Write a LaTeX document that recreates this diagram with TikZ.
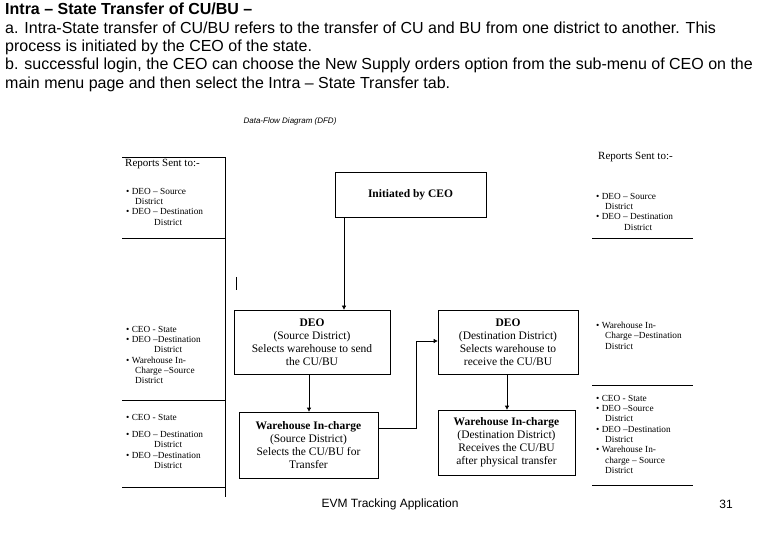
\documentclass[tikz,border=0pt]{standalone}
\usepackage{fontspec}
\setmainfont{Liberation Serif}
\newfontfamily\arialf{Liberation Sans}
\usetikzlibrary{arrows.meta}
\begin{document}
\begin{tikzpicture}[x=1pt,y=-1pt,
  box/.style={draw,thick,align=center,inner sep=2pt,font=\fontsize{11.5}{13}\selectfont},
  bl/.style={anchor=north west,align=left,font=\fontsize{9.3}{10.3}\selectfont,inner sep=0pt},
  hd/.style={anchor=north west,font=\fontsize{11}{13}\selectfont,inner sep=0pt},
  ln/.style={thick},
  arr/.style={thick,-{Triangle[length=4pt,width=4pt]}}]
\useasboundingbox[fill=white] (0,0) rectangle (780,540);
% header
\node[anchor=north west,align=left,inner sep=0pt,font=\arialf\fontsize{16}{18.4}\selectfont] (hdr) at (5,3)
 {\textbf{Intra – State Transfer of CU/BU –}\\
 a. Intra-State transfer of CU/BU refers to the transfer of CU and BU from one district to another. This\\
 process is initiated by the CEO of the state.\\
 b. successful login, the CEO can choose the New Supply orders option from the sub-menu of CEO on the\\
 main menu page and then select the Intra – State Transfer tab.};
\node[font=\arialf\itshape\fontsize{8}{9}\selectfont] (dfd) at (290,121) {Data-Flow Diagram (DFD)};
% left column
\draw[ln] (122,157) -- (225,157) -- (225,497);
\draw[ln] (122,238) -- (225,238);
\draw[ln] (122,400) -- (225,400);
\draw[ln] (122,487) -- (225,487);
\draw[ln] (236,277) -- (236,290);
\node[hd] (lh) at (125,159) {Reports Sent to:-};
\node[bl] (l1) at (126,188) {• DEO – Source\\\hspace*{9pt}District\\• DEO – Destination\\\hspace*{28pt}District};
\node[bl] (l2) at (126,326) {• CEO - State\\• DEO –Destination\\\hspace*{28pt}District\\• Warehouse In-\\\hspace*{9pt}Charge –Source\\\hspace*{9pt}District};
\node[bl] (l3) at (126,414) {• CEO - State\\[7pt]• DEO – Destination\\\hspace*{28pt}District\\• DEO –Destination\\\hspace*{28pt}District};
% right column
\node[hd] (rh) at (598,152) {Reports Sent to:-};
\node[bl] (r1) at (596,193) {• DEO – Source\\\hspace*{9pt}District\\• DEO – Destination\\\hspace*{28pt}District};
\draw[ln] (592,238) -- (693,238);
\node[bl] (r2) at (596,322) {• Warehouse In-\\\hspace*{9pt}Charge –Destination\\\hspace*{9pt}District};
\draw[ln] (592,385) -- (693,385);
\node[bl] (r3) at (596,395) {• CEO - State\\• DEO –Source\\\hspace*{9pt}District\\• DEO –Destination\\\hspace*{9pt}District\\• Warehouse In-\\\hspace*{9pt}charge – Source\\\hspace*{9pt}District};
\draw[ln] (592,485) -- (693,485);
% boxes
\node[box,minimum width=151,minimum height=45] (ceo) at (410.5,194.5) {\textbf{Initiated by CEO}};
\node[box,minimum width=156,minimum height=64] (deos) at (312,342) {\textbf{DEO}\\(Source District)\\Selects warehouse to send\\the CU/BU};
\node[box,minimum width=140,minimum height=64] (deod) at (508,342) {\textbf{DEO}\\(Destination District)\\Selects warehouse to\\receive the CU/BU};
\node[box,minimum width=139,minimum height=66] (whs) at (308.5,445) {\textbf{Warehouse In-charge}\\(Source District)\\Selects the CU/BU for\\Transfer};
\node[box,minimum width=137,minimum height=65] (whd) at (506.5,442.5) {\textbf{Warehouse In-charge}\\(Destination District)\\Receives the CU/BU\\after physical transfer};
% arrows
\draw[arr] (ceo.south -| 344,0) -- (deos.north -| 344,0);
\draw[arr] (deos.south -| 309,0) -- (whs.north -| 309,0);
\draw[arr] (whs.east |- 0,428) -- (416,428) -- (416,341) -- (deod.west |- 0,341);
\draw[arr] (deod.south -| 507,0) -- (whd.north -| 507,0);
% footer
\node[font=\arialf\fontsize{12}{14}\selectfont] (ft) at (390,504) {EVM Tracking Application};
\node[font=\arialf\fontsize{12}{14}\selectfont] (pg) at (726,504) {31};
\end{tikzpicture}
\end{document}
